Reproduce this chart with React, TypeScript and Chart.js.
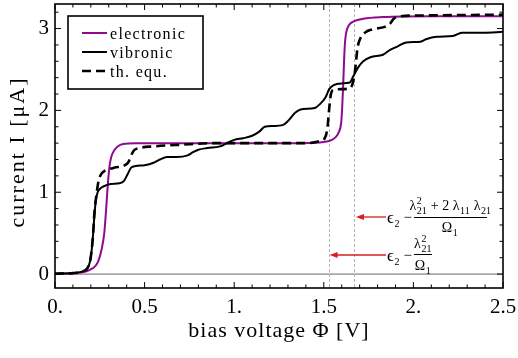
import React, { useEffect, useRef } from 'react';
import { Chart, registerables } from 'chart.js';
Chart.register(...registerables);

// ---------- data ----------
const xTicks = [0, 0.5, 1, 1.5, 2, 2.5];
const xTickLabels = ['0.', '0.5', '1.', '1.5', '2.', '2.5'];
const yTicks = [0, 1, 2, 3];
const yTickLabels = ['0', '1', '2', '3'];
const markerV = [1.527, 1.671];

const electronicV = [0, 0.1, 0.17, 0.21, 0.24, 0.26, 0.275, 0.285, 0.295, 0.305, 0.315, 0.33, 0.35, 0.38, 0.45, 0.6, 1.0, 1.3, 1.45, 1.5, 1.535, 1.565, 1.585, 1.597, 1.603, 1.608, 1.613, 1.618, 1.625, 1.64, 1.67, 1.72, 1.83, 2.1, 2.5];
const electronicI = [0.005, 0.01, 0.03, 0.07, 0.15, 0.3, 0.5, 0.78, 1.1, 1.33, 1.44, 1.51, 1.56, 1.59, 1.6, 1.6, 1.6, 1.6, 1.605, 1.615, 1.63, 1.67, 1.74, 1.85, 2.05, 2.3, 2.6, 2.82, 2.95, 3.04, 3.09, 3.12, 3.14, 3.15, 3.15];

const vibronicV = [0, 0.1, 0.15, 0.18, 0.195, 0.205, 0.213, 0.22, 0.228, 0.238, 0.25, 0.27, 0.31, 0.36, 0.385, 0.405, 0.425, 0.45, 0.5, 0.55, 0.585, 0.625, 0.68, 0.74, 0.77, 0.8, 0.85, 0.92, 0.96, 1.0, 1.05, 1.1, 1.14, 1.17, 1.22, 1.27, 1.3, 1.34, 1.37, 1.45, 1.48, 1.51, 1.53, 1.555, 1.6, 1.645, 1.665, 1.69, 1.72, 1.76, 1.83, 1.87, 1.91, 1.96, 2.04, 2.07, 2.13, 2.22, 2.27, 2.39, 2.5];
const vibronicI = [0.005, 0.012, 0.03, 0.07, 0.15, 0.3, 0.5, 0.72, 0.9, 1.0, 1.04, 1.07, 1.1, 1.11, 1.14, 1.22, 1.3, 1.32, 1.33, 1.36, 1.4, 1.43, 1.43, 1.45, 1.49, 1.52, 1.54, 1.56, 1.6, 1.64, 1.66, 1.69, 1.74, 1.8, 1.81, 1.82, 1.87, 1.97, 2.01, 2.03, 2.08, 2.16, 2.26, 2.31, 2.33, 2.34, 2.42, 2.52, 2.6, 2.65, 2.68, 2.74, 2.78, 2.83, 2.84, 2.87, 2.9, 2.91, 2.95, 2.95, 2.96];

const thermalV = [0, 0.1, 0.15, 0.18, 0.195, 0.205, 0.213, 0.22, 0.23, 0.24, 0.25, 0.27, 0.3, 0.33, 0.39, 0.41, 0.425, 0.44, 0.47, 0.55, 0.7, 0.9, 1.2, 1.4, 1.47, 1.505, 1.52, 1.53, 1.54, 1.555, 1.6, 1.645, 1.66, 1.672, 1.68, 1.688, 1.7, 1.73, 1.77, 1.84, 1.87, 1.89, 1.93, 2.05, 2.5];
const thermalI = [0.005, 0.012, 0.03, 0.07, 0.15, 0.3, 0.5, 0.75, 0.95, 1.1, 1.19, 1.25, 1.28, 1.3, 1.33, 1.37, 1.45, 1.51, 1.54, 1.56, 1.58, 1.6, 1.6, 1.6, 1.62, 1.66, 1.78, 2.02, 2.2, 2.25, 2.26, 2.27, 2.32, 2.45, 2.6, 2.76, 2.86, 2.95, 2.99, 3.02, 3.06, 3.12, 3.15, 3.16, 3.17];

const legendLabels = ['electronic', 'vibronic', 'th. equ.'];
const PURPLE = '#8e0a8e';
const SERIF = '"Liberation Serif", serif';

const pts = (xs: number[], ys: number[]) => xs.map((x, i) => ({ x, y: ys[i] }));

type Item = { t: string; size?: number; sub?: string; sup?: string };

function drawRun(ctx: CanvasRenderingContext2D, x: number, y: number, items: Item[], draw = true): number {
  let cx = x;
  for (const it of items) {
    const size = it.size ?? 14;
    ctx.font = `${size}px ${SERIF}`;
    const w = ctx.measureText(it.t).width;
    if (draw) ctx.fillText(it.t, cx, y);
    cx += w;
    if (it.sup || it.sub) {
      ctx.font = `10px ${SERIF}`;
      let sw = 0;
      if (it.sup) {
        sw = Math.max(sw, ctx.measureText(it.sup).width);
        if (draw) ctx.fillText(it.sup, cx + 0.5, y - 6.5);
      }
      if (it.sub) {
        sw = Math.max(sw, ctx.measureText(it.sub).width);
        if (draw) ctx.fillText(it.sub, cx + 0.5, y + 3.5);
      }
      cx += sw + 1;
    }
  }
  return cx - x;
}

function arrow(ctx: CanvasRenderingContext2D, x0: number, x1: number, y: number) {
  ctx.save();
  ctx.strokeStyle = '#d42020';
  ctx.fillStyle = '#d42020';
  ctx.lineWidth = 1.3;
  ctx.beginPath();
  ctx.moveTo(x0, y);
  ctx.lineTo(x1 + 6, y);
  ctx.stroke();
  ctx.beginPath();
  ctx.moveTo(x1, y);
  ctx.lineTo(x1 + 8, y - 3);
  ctx.lineTo(x1 + 8, y + 3);
  ctx.closePath();
  ctx.fill();
  ctx.restore();
}

const decoPlugin = {
  id: 'deco',
  beforeDatasetsDraw(chart: any) {
    const { ctx, chartArea: a, scales } = chart;
    const xs = scales.x, ys = scales.y;
    ctx.save();
    ctx.strokeStyle = '#444';
    ctx.lineWidth = 0.8;
    const y0 = ys.getPixelForValue(0);
    ctx.beginPath();
    ctx.moveTo(a.left, y0);
    ctx.lineTo(a.right, y0);
    ctx.stroke();
    ctx.strokeStyle = '#b4b4b4';
    ctx.lineWidth = 1;
    ctx.setLineDash([3, 2]);
    for (const v of markerV) {
      const px = Math.round(xs.getPixelForValue(v)) + 0.5;
      ctx.beginPath();
      ctx.moveTo(px, a.top);
      ctx.lineTo(px, a.bottom);
      ctx.stroke();
    }
    ctx.restore();
  },
  afterDraw(chart: any) {
    const { ctx, chartArea: a, scales } = chart;
    const xs = scales.x, ys = scales.y;
    ctx.save();
    ctx.strokeStyle = '#000';
    ctx.lineWidth = 1.6;
    ctx.strokeRect(a.left, a.top, a.right - a.left, a.bottom - a.top);
    ctx.lineWidth = 1;
    ctx.beginPath();
    for (let k = 0; k <= 25; k++) {
      const px = xs.getPixelForValue(k / 10);
      const len = k % 5 === 0 ? 6 : 3.5;
      ctx.moveTo(px, a.bottom); ctx.lineTo(px, a.bottom - len);
      ctx.moveTo(px, a.top); ctx.lineTo(px, a.top + len);
    }
    for (let k = 0; k <= 16; k++) {
      const py = ys.getPixelForValue(k / 5);
      const len = k % 5 === 0 ? 6 : 3.5;
      ctx.moveTo(a.left, py); ctx.lineTo(a.left + len, py);
      ctx.moveTo(a.right, py); ctx.lineTo(a.right - len, py);
    }
    ctx.stroke();

    // axis titles
    ctx.fillStyle = '#000';
    (ctx as any).letterSpacing = '1px';
    ctx.font = `22px ${SERIF}`;
    ctx.textAlign = 'center';
    ctx.textBaseline = 'alphabetic';
    ctx.fillText('bias voltage Φ [V]', (a.left + a.right) / 2, 337);
    ctx.save();
    ctx.translate(24, 152);
    ctx.rotate(-Math.PI / 2);
    (ctx as any).letterSpacing = '2px';
    ctx.fillText('current I [μA]', 0, 0);
    ctx.restore();

    // legend
    (ctx as any).letterSpacing = '1.3px';
    ctx.fillStyle = '#fff';
    ctx.fillRect(68, 16, 135, 73);
    ctx.strokeStyle = '#000';
    ctx.lineWidth = 1.6;
    ctx.strokeRect(68, 16, 135, 73);
    const rows = [33, 52, 71];
    const styles = [
      { c: PURPLE, w: 2, d: [] as number[] },
      { c: '#000', w: 2, d: [] as number[] },
      { c: '#000', w: 2.6, d: [9, 5] },
    ];
    ctx.textAlign = 'left';
    ctx.font = `16px ${SERIF}`;
    rows.forEach((ry, i) => {
      ctx.strokeStyle = styles[i].c;
      ctx.lineWidth = styles[i].w;
      ctx.setLineDash(styles[i].d);
      ctx.beginPath();
      ctx.moveTo(82, ry);
      ctx.lineTo(107, ry);
      ctx.stroke();
      ctx.setLineDash([]);
      ctx.fillStyle = '#000';
      ctx.fillText(legendLabels[i], 110, ry + 5.5);
    });
    (ctx as any).letterSpacing = '0px';

    // annotations
    const xa = xs.getPixelForValue(markerV[1]);
    const xb = xs.getPixelForValue(markerV[0]);
    arrow(ctx, 386, xa + 1.5, 217);
    arrow(ctx, 386, xb + 1, 255);
    ctx.fillStyle = '#000';
    ctx.strokeStyle = '#000';
    ctx.textAlign = 'left';
    drawRun(ctx, 387, 223, [{ t: 'ϵ', size: 17, sub: '2' }]);
    ctx.font = `15px ${SERIF}`;
    ctx.fillText('−', 403.5, 222);
    const num1: Item[] = [{ t: 'λ', sup: '2', sub: '21' }, { t: ' + 2 ' }, { t: 'λ', sub: '11' }, { t: ' λ', sub: '21' }];
    const w1 = drawRun(ctx, 0, 0, num1, false);
    ctx.lineWidth = 1;
    ctx.beginPath(); ctx.moveTo(414, 217.5); ctx.lineTo(487, 217.5); ctx.stroke();
    drawRun(ctx, 450.5 - w1 / 2, 210, num1);
    const den: Item[] = [{ t: 'Ω', sub: '1' }];
    const wd = drawRun(ctx, 0, 0, den, false);
    drawRun(ctx, 450 - wd / 2, 232, den);
    drawRun(ctx, 387, 261, [{ t: 'ϵ', size: 17, sub: '2' }]);
    ctx.font = `15px ${SERIF}`;
    ctx.fillText('−', 403.5, 260);
    ctx.beginPath(); ctx.moveTo(414, 254.5); ctx.lineTo(432, 254.5); ctx.stroke();
    const num2: Item[] = [{ t: 'λ', sup: '2', sub: '21' }];
    const w2 = drawRun(ctx, 0, 0, num2, false);
    drawRun(ctx, 423 - w2 / 2, 248, num2);
    drawRun(ctx, 423 - wd / 2, 270, den);
    ctx.restore();
  },
};

export default function App() {
  const ref = useRef<HTMLCanvasElement>(null);
  useEffect(() => {
    const canvas = ref.current!;
    const tickFont = { family: SERIF, size: 21 };
    const chart = new Chart(canvas, {
      type: 'line',
      data: {
        datasets: [
          {
            label: 'th. equ.', data: pts(thermalV, thermalI), borderColor: '#000', borderWidth: 2.6,
            borderDash: [9, 5], pointRadius: 0, fill: false, cubicInterpolationMode: 'monotone', order: 0,
          },
          {
            label: 'vibronic', data: pts(vibronicV, vibronicI), borderColor: '#000', borderWidth: 2,
            pointRadius: 0, fill: false, cubicInterpolationMode: 'monotone', order: 1,
          },
          {
            label: 'electronic', data: pts(electronicV, electronicI), borderColor: PURPLE, borderWidth: 2,
            pointRadius: 0, fill: false, cubicInterpolationMode: 'monotone', order: 2,
          },
        ],
      },
      options: {
        animation: false,
        responsive: false,
        devicePixelRatio: 1,
        layout: { padding: { top: 4, right: 15, left: 0, bottom: 0 } },
        plugins: { legend: { display: false }, tooltip: { enabled: false } },
        events: [],
        scales: {
          x: {
            type: 'linear', min: 0, max: 2.5,
            grid: { display: false, drawTicks: false }, border: { display: false },
            ticks: {
              font: tickFont, color: '#000', padding: 7, maxRotation: 0, autoSkip: false,
              callback: (v: any) => xTickLabels[xTicks.indexOf(Number(v))] ?? '',
            },
            afterBuildTicks: (s: any) => { s.ticks = xTicks.map((value) => ({ value })); },
            afterFit: (s: any) => { s.height = 70; s.paddingLeft = 0; s.paddingRight = 0; },
          },
          y: {
            type: 'linear', min: -0.17, max: 3.3,
            grid: { display: false, drawTicks: false }, border: { display: false },
            ticks: {
              font: tickFont, color: '#000', padding: 6, autoSkip: false,
              callback: (v: any) => yTickLabels[yTicks.indexOf(Number(v))] ?? '',
            },
            afterBuildTicks: (s: any) => { s.ticks = yTicks.map((value) => ({ value })); },
            afterFit: (s: any) => { s.width = 55; s.paddingTop = 0; s.paddingBottom = 0; },
          },
        },
      } as any,
      plugins: [decoPlugin],
    });
    return () => chart.destroy();
  }, []);
  return (
    <div style={{ position: 'fixed', left: 0, top: 0, width: 518, height: 358, background: '#fff' }}>
      <canvas ref={ref} width={518} height={358} style={{ width: 518, height: 358, display: 'block' }} />
    </div>
  );
}
